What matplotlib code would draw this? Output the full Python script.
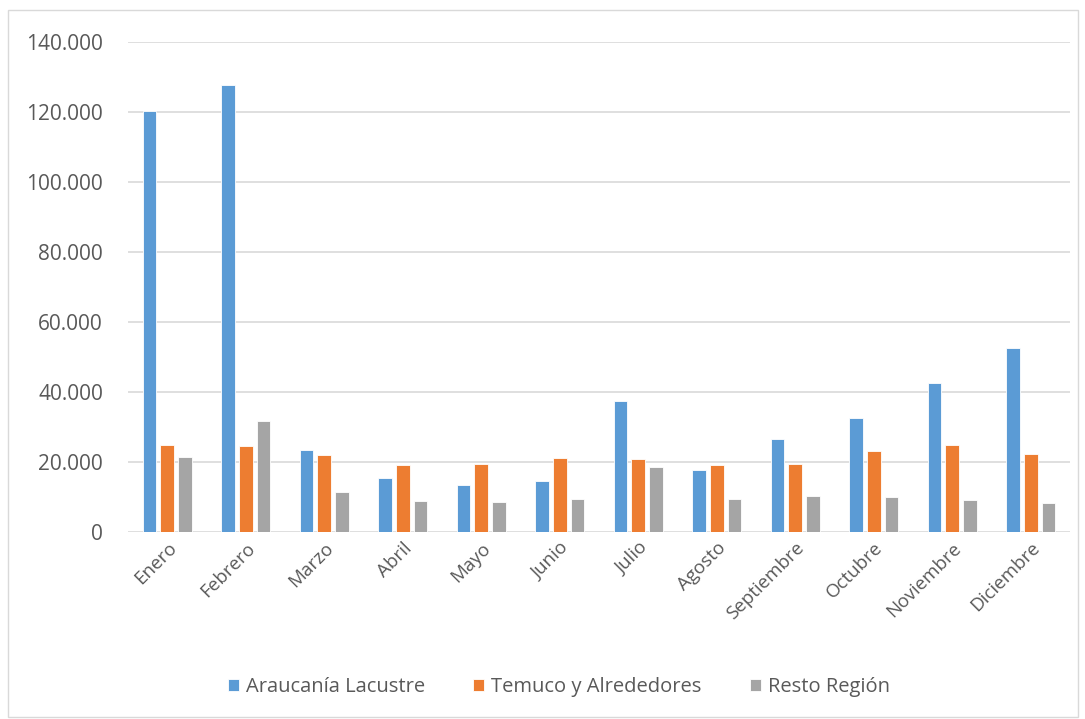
import numpy as np
import matplotlib.pyplot as plt
from matplotlib.patches import Rectangle
from matplotlib.ticker import FuncFormatter

meses = ["Enero", "Febrero", "Marzo", "Abril", "Mayo", "Junio", "Julio",
         "Agosto", "Septiembre", "Octubre", "Noviembre", "Diciembre"]
series = ["Araucanía Lacustre", "Temuco y Alrededores", "Resto Región"]
lacustre = [120200, 127600, 23500, 15500, 13300, 14500, 37400, 17800, 26600, 32500, 42600, 52700]
temuco = [24800, 24700, 22000, 19100, 19300, 21100, 20800, 19100, 19300, 23100, 25000, 22400]
resto = [21400, 31600, 11300, 9000, 8500, 9300, 18500, 9400, 10400, 10000, 9100, 8300]
colores = ["#5B9BD5", "#ED7D31", "#A5A5A5"]

plt.rcParams['font.family'] = ['Open Sans', 'DejaVu Sans']
texto = "#595959"

fig = plt.figure(figsize=(10.85, 7.19), dpi=100)
ax = fig.add_axes([128 / 1085, 1 - 532 / 719, (1070 - 128) / 1085, (532 - 42) / 719])

x = np.arange(len(meses))
ancho = 0.172
paso = 0.223
for i, (vals, nombre) in enumerate(zip([lacustre, temuco, resto], series)):
    ax.bar(x + (i - 1) * paso, vals, width=ancho, color=colores[i], label=nombre,
           edgecolor="white", linewidth=0.6, zorder=3)

ax.set_xlim(-0.5, len(meses) - 0.5)
ax.set_ylim(0, 140000)
ax.set_yticks(np.arange(0, 140001, 20000))
ax.yaxis.set_major_formatter(FuncFormatter(lambda v, p: f"{int(v):,}".replace(",", ".")))
ax.grid(axis="y", color="#D9D9D9", linewidth=1.2, zorder=0)
for s in ax.spines.values():
    s.set_visible(False)
ax.tick_params(axis="both", length=0, colors=texto, labelsize=13.5)
ax.tick_params(axis="y", pad=18, labelsize=15)
ax.set_xticks(x)
ax.set_xticklabels(meses, rotation=45, ha="right", rotation_mode="anchor")
ax.tick_params(axis="x", pad=5)

fig.legend(loc="center", bbox_to_anchor=(0.515, 1 - 687 / 719), ncol=3, frameon=False,
           fontsize=14.5, handlelength=0.55, handleheight=0.55, columnspacing=2.4,
           handletextpad=0.35, labelcolor=texto)

fig.patches.append(Rectangle((8 / 1085, 2 / 719), 1070 / 1085, 707 / 719, transform=fig.transFigure,
                             fill=False, edgecolor="#D9D9D9", linewidth=1))

fig.savefig("out.png", dpi=100)
